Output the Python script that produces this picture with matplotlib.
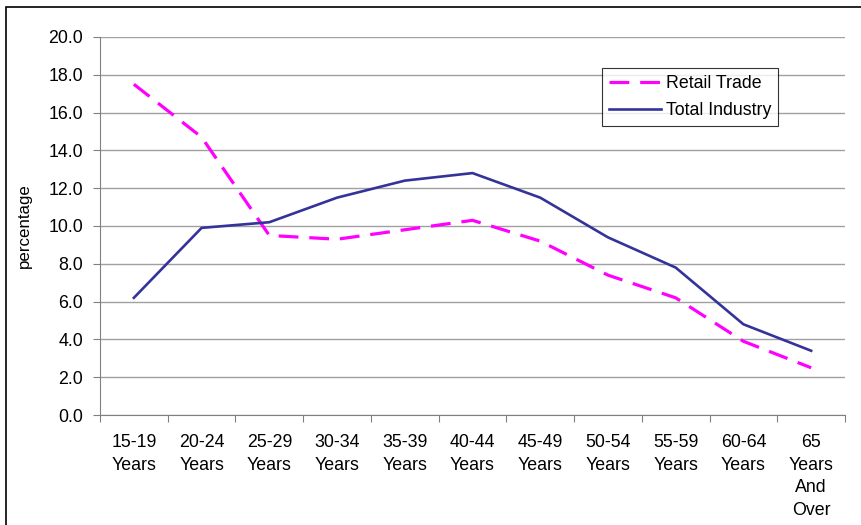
import numpy as np
import matplotlib
matplotlib.use("Agg")
import matplotlib.pyplot as plt
from matplotlib.patches import Rectangle

plt.rcParams['font.family'] = ['Liberation Sans', 'DejaVu Sans']

# Data
categories = ["15-19\nYears", "20-24\nYears", "25-29\nYears", "30-34\nYears",
              "35-39\nYears", "40-44\nYears", "45-49\nYears", "50-54\nYears",
              "55-59\nYears", "60-64\nYears", "65\nYears\nAnd\nOver"]
retail_trade = [17.5, 14.7, 9.5, 9.3, 9.8, 10.3, 9.2, 7.4, 6.2, 3.9, 2.5]
total_industry = [6.2, 9.9, 10.2, 11.5, 12.4, 12.8, 11.5, 9.4, 7.8, 4.8, 3.4]
yticks = np.arange(0, 20.1, 2.0)

W, H = 861, 525
FS = 12.8
fig = plt.figure(figsize=(W / 100, H / 100), dpi=100)
ax = fig.add_axes([100 / W, (H - 415) / H, 745 / W, 378 / H])

x = np.arange(len(categories))
ax.plot(x, retail_trade, color="#FF00FF", lw=2.3, linestyle=(0, (6.2, 3.4)),
        label="Retail Trade", solid_joinstyle="miter")
ax.plot(x, total_industry, color="#333399", lw=1.9, label="Total Industry")

ax.set_xlim(-0.5, len(categories) - 0.5)
ax.set_ylim(0, 20)
ax.set_yticks(yticks)
ax.set_yticklabels([f"{v:.1f}" for v in yticks])
ax.yaxis.grid(True, color="#A0A0A0", lw=1)
ax.set_axisbelow(True)

# category labels between boundary ticks
ax.set_xticks(np.arange(-0.5, len(categories), 1.0))
ax.set_xticklabels([])
ax.set_xticks(x, minor=True)
ax.set_xticklabels(categories, minor=True, linespacing=1.42, va="top")
ax.tick_params(axis="x", which="minor", length=0, pad=14, labelsize=FS)
ax.tick_params(axis="x", which="major", length=5, color="#808080", direction="out")
ax.tick_params(axis="y", length=5, color="#808080", direction="out", pad=7, labelsize=FS)

for s in ["top", "right"]:
    ax.spines[s].set_visible(False)
ax.spines["left"].set_color("#808080")
ax.spines["bottom"].set_color("#808080")

ax.set_ylabel("percentage", fontsize=FS * 0.95, labelpad=12)

leg = ax.legend(loc="upper left", bbox_to_anchor=(502 / 745, (415 - 68) / 378),
                frameon=True, fancybox=False, edgecolor="black", fontsize=FS,
                handlelength=2.9, handletextpad=0.3, borderpad=0.4, labelspacing=0.55,
                borderaxespad=0)
leg.get_frame().set_linewidth(0.8)

# outer chart border
fig.patches.append(Rectangle((6 / W, -0.1), 1.2, 1 - 7 / H + 0.1, transform=fig.transFigure,
                             fill=False, edgecolor="black", lw=1.2, clip_on=False))

fig.savefig("out.png", dpi=100)
